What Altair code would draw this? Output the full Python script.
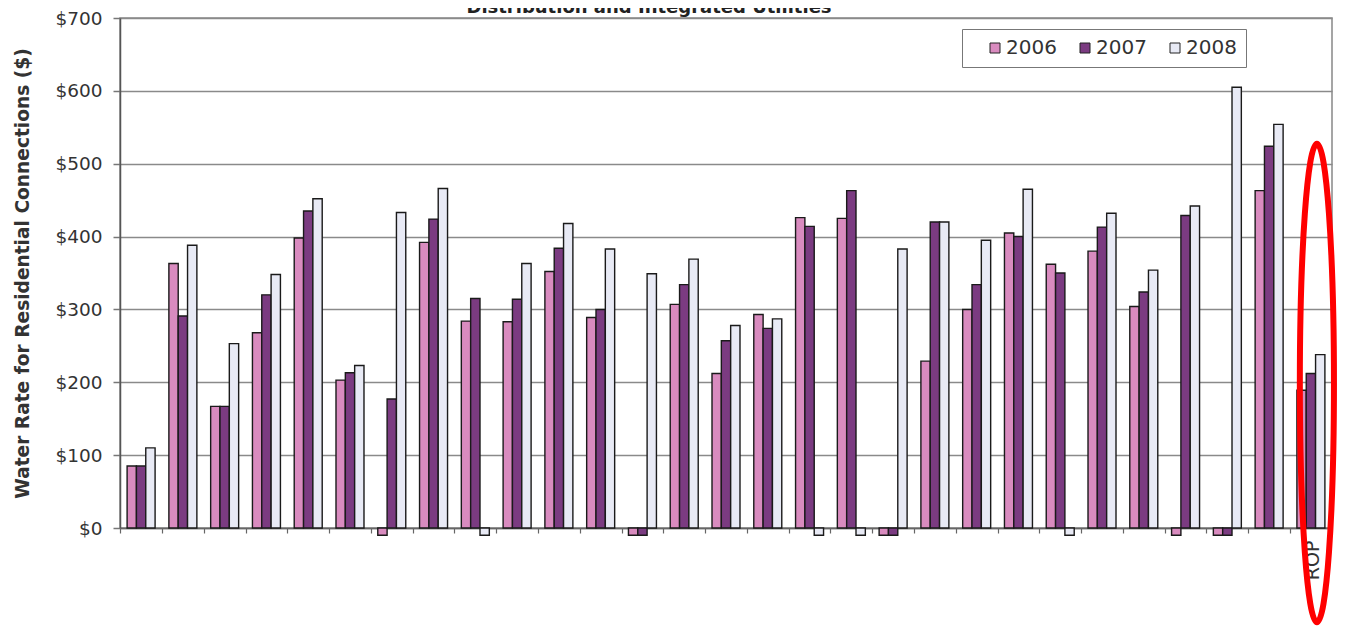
import altair as alt
import pandas as pd

# ---- data ----
categories = [str(i) for i in range(1, 29)] + ["ROP"]
years = ["2006", "2007", "2008"]
v2006 = [85, 363, 167, 268, 398, 203, -10, 392, 284, 283, 352, 289, -10, 307, 212,
         293, 426, 425, -10, 229, 300, 405, 362, 380, 304, -10, -10, 463, 189]
v2007 = [85, 291, 167, 320, 435, 213, 177, 424, 315, 314, 384, 300, -10, 334, 257,
         274, 414, 463, -10, 420, 334, 400, 350, 413, 324, 429, -10, 524, 212]
v2008 = [110, 388, 253, 348, 452, 223, 433, 466, -10, 363, 418, 383, 349, 369, 278,
         287, -10, -10, 383, 420, 395, 465, -10, 432, 354, 442, 605, 554, 238]
colors = ["#d98bbf", "#7b3b81", "#e8eaf5"]
y_ticks = [0, 100, 200, 300, 400, 500, 600, 700]
title_text = "Distribution and Integrated Utilities"
y_title = "Water Rate for Residential Connections ($)"
highlight_cat = ["ROP"]
highlight_val = [199]

rows = []
for i, c in enumerate(categories):
    for yr, vals in zip(years, [v2006, v2007, v2008]):
        rows.append({"cat": c, "year": yr, "value": vals[i]})
df = pd.DataFrame(rows)

FONT = "DejaVu Sans"

x_enc = alt.X(
    "cat:N", sort=categories,
    scale=alt.Scale(paddingInner=0.33, paddingOuter=0.17),
    axis=alt.Axis(
        title=None,
        labelExpr="datum.value == 'ROP' ? 'ROP' : ''",
        labelAngle=-90, labelFont=FONT, labelFontSize=19, labelColor="#333",
        labelOverlap=False, labelPadding=7,
        tickOffset=-20.9, labelOffset=22, tickSize=5, tickColor="#666", tickWidth=1.2,
        domainColor="#666", domainWidth=1.5, grid=False,
    ),
)

y_enc = alt.Y(
    "value:Q",
    scale=alt.Scale(domain=[0, 700], nice=False),
    axis=alt.Axis(
        values=y_ticks, format="$.0f", title=y_title,
        titleFont=FONT, titleFontSize=18.6, titleFontWeight="bold", titleColor="#333",
        titlePadding=22,
        labelFont=FONT, labelFontSize=18.5, labelColor="#333", labelPadding=11,
        tickSize=7, tickColor="#777", tickWidth=1.5,
        domainColor="#555", domainWidth=1.5,
        gridColor="#8a8a8a", gridWidth=1.5,
    ),
)

bars = alt.Chart(df).mark_bar(stroke="#1a1a1a", strokeWidth=1.4).encode(
    x=x_enc,
    xOffset=alt.XOffset("year:N", sort=years,
                        scale=alt.Scale(paddingInner=0, paddingOuter=0)),
    y=y_enc,
    color=alt.Color(
        "year:N",
        scale=alt.Scale(domain=years, range=colors),
        legend=alt.Legend(
            title=None, orient="none", legendX=842, legendY=11,
            direction="horizontal", columns=3,
            symbolType="square", symbolSize=100,
            symbolStrokeColor="#222", symbolStrokeWidth=1, symbolOffset=14,
            labelFont=FONT, labelFontSize=20, labelColor="#333", labelOffset=1,
            columnPadding=4, padding=9,
            strokeColor="#777", fillColor="#ffffff",
        ),
    ),
)

ELLIPSE = "M 0 -1 A 0.0713 1 0 0 1 0 1 A 0.0713 1 0 0 1 0 -1 Z"
ell_df = pd.DataFrame({"cat": highlight_cat, "value": highlight_val})
ellipse = alt.Chart(ell_df).mark_point(
    shape=ELLIPSE, size=229000, filled=False, color="#ff0000",
    strokeWidth=6, opacity=1, xOffset=6,
).encode(
    x=alt.X("cat:N", sort=categories),
    y=alt.Y("value:Q"),
)

title = alt.Chart(pd.DataFrame({"t": [title_text]})).mark_text(
    font=FONT, fontSize=18, fontWeight="bold", color="#222",
    baseline="alphabetic", align="center",
).encode(text="t:N", x=alt.value(529), y=alt.value(-5))

chart = alt.layer(bars, ellipse, title).properties(
    width=1212, height=510,
    padding={"left": 112, "top": 10, "right": 5, "bottom": 100},
    autosize=alt.AutoSizeParams(type="none"),
).configure_view(stroke="#888", strokeWidth=1.5)

chart.save("out.html", embed_options={"renderer": "svg", "actions": False})
